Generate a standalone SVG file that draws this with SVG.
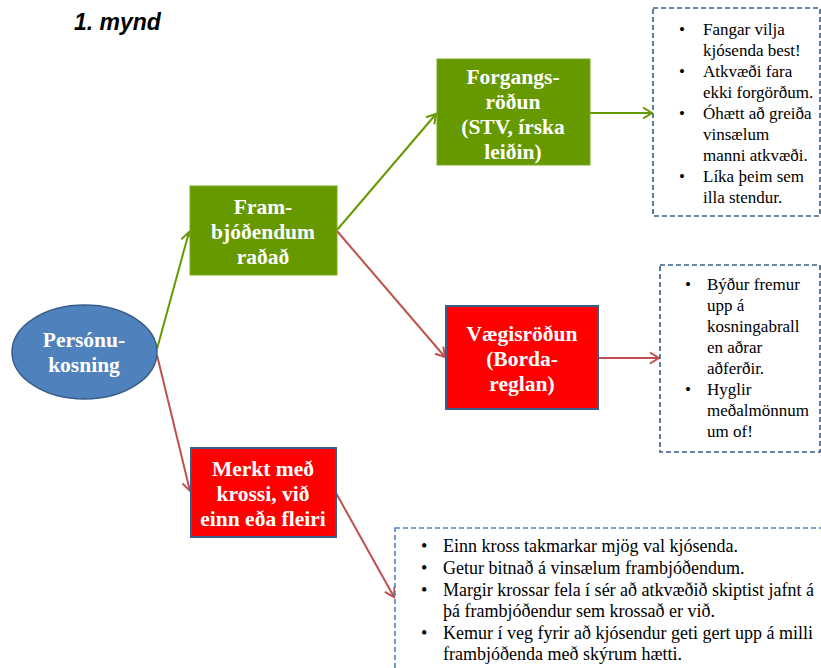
<svg xmlns="http://www.w3.org/2000/svg" width="821" height="668" viewBox="0 0 821 668">
<defs>
<marker id="ag" markerUnits="userSpaceOnUse" markerWidth="14" markerHeight="14" refX="11" refY="7" orient="auto">
<path d="M2,1.5 L11,7 L2,12.5" fill="none" stroke="#669900" stroke-width="2"/>
</marker>
<marker id="ar" markerUnits="userSpaceOnUse" markerWidth="14" markerHeight="14" refX="11" refY="7" orient="auto">
<path d="M2,1.5 L11,7 L2,12.5" fill="none" stroke="#C0504D" stroke-width="2"/>
</marker>
<style>
.g{stroke:#669900;stroke-width:2;fill:none;marker-end:url(#ag)}
.r{stroke:#C0504D;stroke-width:2;fill:none;marker-end:url(#ar)}
.nt{font-family:"Liberation Serif","Times New Roman",serif;font-weight:bold;font-size:21.5px;fill:#fff;text-anchor:middle}
.bt{font-family:"Liberation Serif","Times New Roman",serif;font-size:17px;fill:#000}
.bt3{font-family:"Liberation Serif","Times New Roman",serif;font-size:18px;fill:#000}
.box{fill:#fff;stroke-width:1.6;stroke-dasharray:5,3}
</style>
</defs>
<rect width="821" height="668" fill="#fff"/>
<text x="74" y="30" font-family="Liberation Sans, Arial, sans-serif" font-weight="bold" font-style="italic" font-size="23" fill="#000">1. mynd</text>

<g id="connectors">
<line class="g" x1="157" y1="349" x2="189" y2="232"/>
<line class="r" x1="157" y1="355" x2="190" y2="491"/>
<line class="g" x1="337" y1="230" x2="436" y2="114"/>
<line class="r" x1="337" y1="231" x2="445" y2="357"/>
<line class="g" x1="590" y1="113" x2="652" y2="113"/>
<line class="r" x1="598" y1="358" x2="659" y2="358"/>
<line class="r" x1="336" y1="493" x2="394" y2="597"/>
</g>

<g id="persona">
<ellipse cx="84.5" cy="352" rx="72.5" ry="47" fill="#4F81BD" stroke="#385D8A" stroke-width="1.5"/>
<text class="nt" x="84" y="347">Persónu-</text>
<text class="nt" x="84" y="372">kosning</text>
</g>

<g id="fram">
<rect x="190" y="186" width="147" height="89" fill="#669900" stroke="#7BAA1E" stroke-width="1"/>
<text class="nt" x="263" y="214">Fram-</text>
<text class="nt" x="263" y="239">bjóðendum</text>
<text class="nt" x="263" y="264">raðað</text>
</g>

<g id="forgangs">
<rect x="437" y="59" width="153" height="106" fill="#669900" stroke="#7BAA1E" stroke-width="1"/>
<text class="nt" x="513" y="84">Forgangs-</text>
<text class="nt" x="513" y="109">röðun</text>
<text class="nt" x="513" y="134">(STV, írska</text>
<text class="nt" x="513" y="159">leiðin)</text>
</g>

<g id="vaegis">
<rect x="446" y="306" width="152" height="103" fill="#FF0000" stroke="#385D8A" stroke-width="2"/>
<text class="nt" x="522" y="341">Vægisröðun</text>
<text class="nt" x="522" y="366">(Borda-</text>
<text class="nt" x="522" y="391">reglan)</text>
</g>

<g id="merkt">
<rect x="191" y="448" width="145" height="89" fill="#FF0000" stroke="#385D8A" stroke-width="2"/>
<text class="nt" x="263" y="476">Merkt með</text>
<text class="nt" x="263" y="501">krossi, við</text>
<text class="nt" x="263" y="526">einn eða fleiri</text>
</g>

<g id="box1">
<rect class="box" x="653" y="8" width="167" height="208" stroke="#385D8A"/>
<g class="bt">
<text x="679" y="35">•</text><text x="703" y="35">Fangar vilja</text>
<text x="703" y="56">kjósenda best!</text>
<text x="679" y="77">•</text><text x="703" y="77">Atkvæði fara</text>
<text x="703" y="98">ekki forgörðum.</text>
<text x="679" y="119">•</text><text x="703" y="119">Óhætt að greiða</text>
<text x="703" y="140">vinsælum</text>
<text x="703" y="161">manni atkvæði.</text>
<text x="679" y="182">•</text><text x="703" y="182">Líka þeim sem</text>
<text x="703" y="203">illa stendur.</text>
</g>
</g>

<g id="box2">
<rect class="box" x="660" y="265" width="160" height="187" stroke="#385D8A"/>
<g class="bt">
<text x="685" y="290">•</text><text x="707" y="290">Býður fremur</text>
<text x="707" y="311">upp á</text>
<text x="707" y="332">kosningabrall</text>
<text x="707" y="353">en aðrar</text>
<text x="707" y="374">aðferðir.</text>
<text x="685" y="395">•</text><text x="707" y="395">Hyglir</text>
<text x="707" y="416">meðalmönnum</text>
<text x="707" y="437">um of!</text>
</g>
</g>

<g id="box3">
<rect class="box" x="395" y="528" width="440" height="150" stroke="#4F81BD"/>
<g class="bt3">
<text x="421" y="552">•</text><text x="443" y="552">Einn kross takmarkar mjög val kjósenda.</text>
<text x="421" y="574">•</text><text x="443" y="574">Getur bitnað á vinsælum frambjóðendum.</text>
<text x="421" y="596">•</text><text x="443" y="596">Margir krossar fela í sér að atkvæðið skiptist jafnt á</text>
<text x="443" y="617">þá frambjóðendur sem krossað er við.</text>
<text x="421" y="639">•</text><text x="443" y="639">Kemur í veg fyrir að kjósendur geti gert upp á milli</text>
<text x="443" y="660">frambjóðenda með skýrum hætti.</text>
</g>
</g>
</svg>
